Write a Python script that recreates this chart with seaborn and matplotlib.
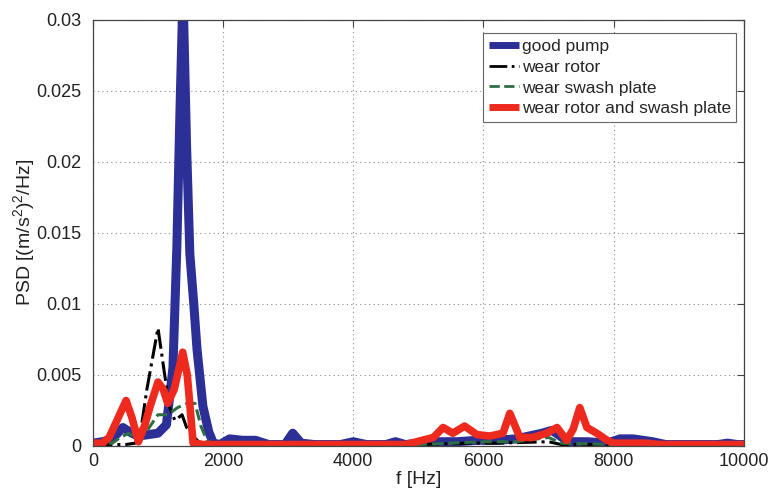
import matplotlib
matplotlib.use("Agg")
import matplotlib.pyplot as plt
import seaborn as sns
import pandas as pd
from matplotlib.ticker import FixedLocator, FixedFormatter

# Power spectral density of pump vibration, four pump conditions
good_f = [0, 150, 300, 460, 600, 700, 850, 1000, 1130, 1230, 1290, 1340, 1385,
          1440, 1490, 1550, 1600, 1690, 1780, 1850, 1950, 2100, 2300, 2500, 2700,
          2950, 3070, 3200, 3400, 3800, 4000, 4200, 4500, 4650, 4800, 5000, 5300,
          5600, 5900, 6200, 6500, 6700, 6900, 7050, 7150, 7300, 7600, 7900, 8100,
          8300, 8600, 8800, 9200, 9600, 9750, 9900, 10000]
good_psd = [0.0002, 0.0003, 0.0005, 0.0013, 0.0009, 0.0007, 0.0008, 0.0009, 0.0015,
            0.0055, 0.0140, 0.0240, 0.0320, 0.0210, 0.0135, 0.0100, 0.0068, 0.0028,
            0.0010, 0.0002, 0.0001, 0.0005, 0.0004, 0.0004, 0.0001, 0.0001, 0.0009,
            0.0002, 0.0001, 0.0001, 0.0003, 0.0001, 0.0001, 0.0003, 0.0001, 0.0002,
            0.0003, 0.0003, 0.0004, 0.0004, 0.0005, 0.0007, 0.0009, 0.0011, 0.0008,
            0.0003, 0.0003, 0.0002, 0.0005, 0.0005, 0.0003, 0.0001, 0.0001, 0.0001,
            0.0002, 0.0001, 0.0001]

rotor_f = [0, 500, 650, 720, 830, 1000, 1100, 1180, 1260, 1370, 1440, 1600, 1700,
           5000, 5800, 6200, 7000, 7200, 10000]
rotor_psd = [0.0001, 0.0001, 0.0002, 0.0006, 0.0040, 0.0083, 0.0051, 0.0027, 0.0018,
             0.0022, 0.0013, 0.0004, 0.0001, 0.0001, 0.0002, 0.0002, 0.0003, 0.0001,
             0.0001]

swash_f = [0, 300, 420, 550, 700, 850, 1000, 1150, 1300, 1450, 1570, 1660, 1750,
           1850, 5000, 5500, 6000, 6500, 7000, 7200, 8000, 10000]
swash_psd = [0.0001, 0.0002, 0.0006, 0.0009, 0.0004, 0.0012, 0.0022, 0.0022, 0.0027,
             0.0030, 0.0030, 0.0014, 0.0004, 0.0001, 0.0001, 0.0002, 0.0003, 0.0003,
             0.0006, 0.0002, 0.0001, 0.0001]

both_f = [0, 150, 250, 350, 510, 600, 700, 800, 880, 1000, 1080, 1150, 1250, 1380,
          1450, 1540, 1700, 2000, 4800, 4975, 5230, 5380, 5530, 5710, 5900, 6100,
          6300, 6405, 6560, 6760, 6970, 7130, 7280, 7380, 7480, 7590, 7740, 7900,
          8000, 8500, 8700, 10000]
both_psd = [0.0002, 0.0002, 0.0006, 0.0016, 0.0032, 0.0020, 0.0003, 0.0015, 0.0028,
            0.0045, 0.0040, 0.0030, 0.0040, 0.0066, 0.0050, 0.0002, 0.0001, 0.0001,
            0.0001, 0.0003, 0.0006, 0.0013, 0.0009, 0.0014, 0.0008, 0.0007, 0.0009,
            0.0023, 0.0006, 0.0006, 0.0009, 0.0013, 0.0004, 0.0012, 0.0027, 0.0013,
            0.0009, 0.0004, 0.0002, 0.0002, 0.0001, 0.0001]

x_ticks = [0, 2000, 4000, 6000, 8000, 10000]
y_ticks = [0, 0.005, 0.01, 0.015, 0.02, 0.025, 0.03]
y_tick_labels = ["0", "0.005", "0.01", "0.015", "0.02", "0.025", "0.03"]

sns.set_theme(style="white")
plt.rcParams["font.family"] = ["Liberation Sans", "DejaVu Sans"]
plt.rcParams["mathtext.fontset"] = "custom"
plt.rcParams["mathtext.rm"] = "Liberation Sans"
plt.rcParams["mathtext.it"] = "Liberation Sans"

fig = plt.figure(figsize=(7.74, 4.95), dpi=100)
ax = fig.add_axes([0.120, 0.099, 0.841, 0.861])

series = [
    ("good pump", good_f, good_psd, dict(color="#2b2f96", lw=6.5, ls="-")),
    ("wear rotor", rotor_f, rotor_psd, dict(color="black", lw=2.2, ls="-.")),
    ("wear swash plate", swash_f, swash_psd, dict(color="#2f6e45", lw=2.2, ls="--")),
    ("wear rotor and swash plate", both_f, both_psd, dict(color="#ee2a1e", lw=5.5, ls="-")),
]

for name, f, p, st in series:
    df = pd.DataFrame({"f": f, "psd": p})
    sns.lineplot(data=df, x="f", y="psd", ax=ax, estimator=None, sort=False,
                 color=st["color"], linewidth=st["lw"], linestyle=st["ls"],
                 label=name, solid_joinstyle="round", solid_capstyle="round")

ax.set_xlim(0, 10000)
ax.set_ylim(0, 0.03)
ax.xaxis.set_major_locator(FixedLocator(x_ticks))
ax.set_xticklabels([str(t) for t in x_ticks])
ax.yaxis.set_major_locator(FixedLocator(y_ticks))
ax.yaxis.set_major_formatter(FixedFormatter(y_tick_labels))

ax.grid(True, linestyle=(0, (1, 3)), color="#8c8c8c", linewidth=0.8)
ax.tick_params(direction="in", length=5, width=0.8, color="#444444",
               top=True, right=True, labelsize=13, labelcolor="#222222")
ax.tick_params(axis="y", pad=8)
ax.tick_params(axis="x", pad=5)
for s in ax.spines.values():
    s.set_color("#444444")
    s.set_linewidth(0.9)

ax.set_xlabel("f [Hz]", fontsize=14, color="#222222", labelpad=1)
ax.set_ylabel(r"PSD [(m/s$^2$)$^2$/Hz]", fontsize=14, color="#222222", labelpad=0)

leg = ax.legend(loc="upper right", bbox_to_anchor=(0.988, 0.968), fontsize=12.5,
                frameon=True, fancybox=False, edgecolor="#666666", framealpha=1,
                handlelength=1.75, handletextpad=0.15, labelspacing=0.33,
                borderpad=0.3, borderaxespad=0.0)
leg.get_frame().set_linewidth(0.8)
for h, w in zip(leg.get_lines(), [5.0, 2.0, 2.0, 5.0]):
    h.set_solid_capstyle("butt")
    h.set_linewidth(w)

fig.savefig("out.png", dpi=100)
